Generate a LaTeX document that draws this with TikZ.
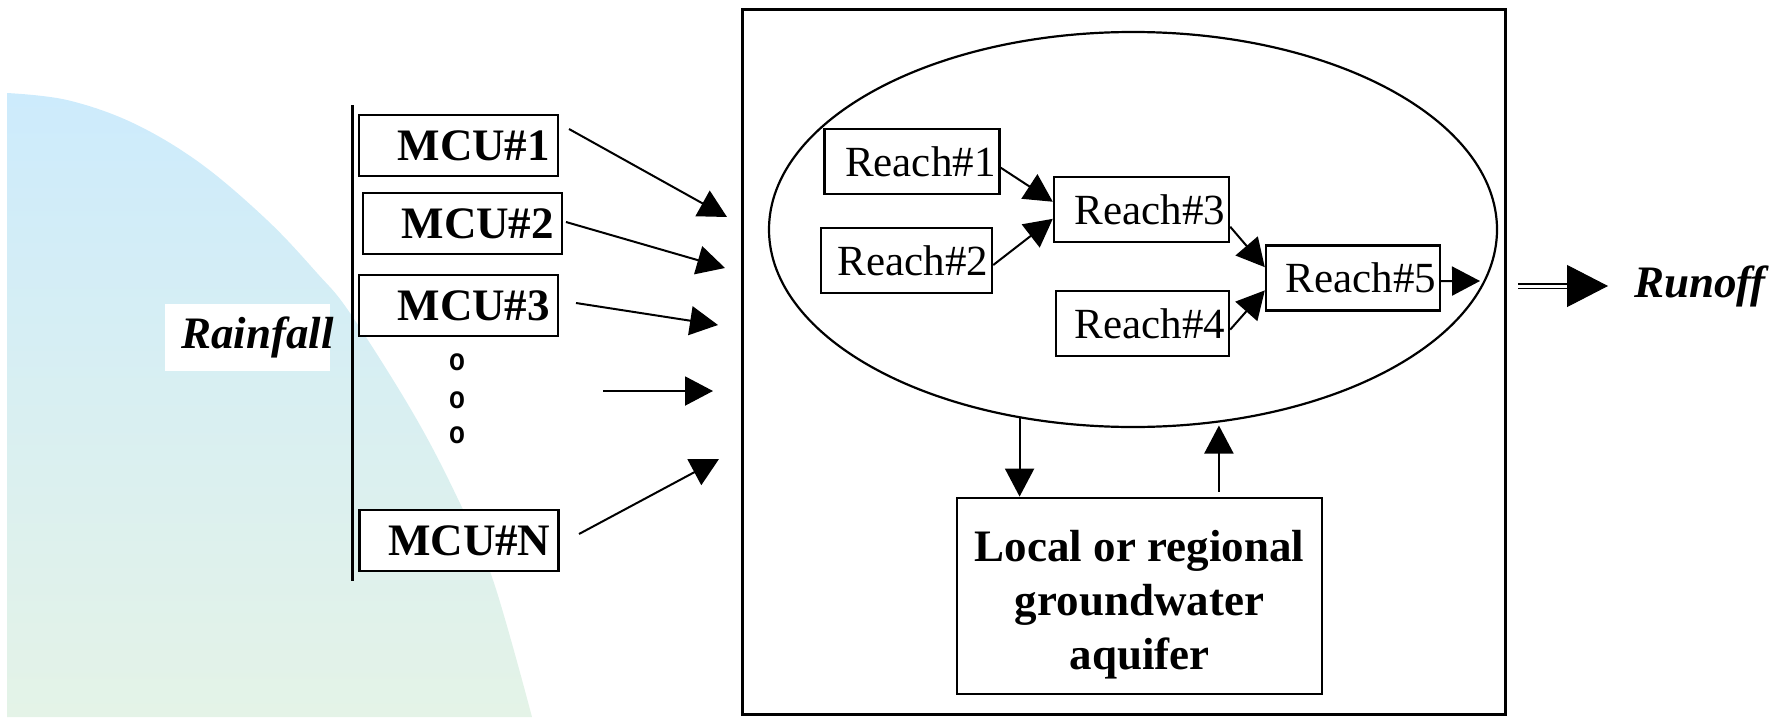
\documentclass[tikz,border=0pt]{standalone}
\usepackage{fontspec}
\setmainfont{Liberation Serif}
\newfontfamily\dotsfont{Liberation Sans}
\usetikzlibrary{arrows.meta,shapes.geometric}
\definecolor{rainTop}{RGB}{205,235,252}
\definecolor{rainMid}{RGB}{214,238,243}
\definecolor{rainBot}{RGB}{228,243,231}
\begin{document}
\begin{tikzpicture}[x=1pt,y=-1pt,
  tip/.style={-{Triangle[length=28pt,width=29pt]}, line width=2pt},
  mcubox/.style={draw, line width=2.8pt, fill=white, minimum height=61pt, text width=183pt,
    inner xsep=8pt, inner ysep=0pt, align=right, font=\fontsize{45}{50}\selectfont\bfseries},
  reachbox/.style={draw, line width=2.4pt, fill=white, minimum height=65pt, text width=167pt,
    inner xsep=4pt, inner ysep=0pt, align=right, font=\fontsize{43}{48}\selectfont},
  dotmark/.style={inner sep=0pt, yscale=1.2, font=\dotsfont\bfseries\fontsize{26}{26}\selectfont},
  bolditalic/.style={inner sep=0pt, font=\fontsize{45}{50}\selectfont\bfseries\itshape}
 ]
\useasboundingbox (0,0) rectangle (1787,717);
% rainfall background
\shade[top color=rainTop, middle color=rainMid, bottom color=rainBot]
  (7,717) -- plot[smooth, tension=0.6] coordinates {(7,93) (67,100) (133,123) (200,163) (267,220) (317,273) (350,313) (413,413) (457,497) (493,580) (532,717)} -- cycle;
\node[fill=white, minimum width=165pt, minimum height=67pt, inner sep=0pt] (rainbox) at (247.5,337.5) {};
\node[bolditalic, anchor=base east] (rain) at (334,348) {Rainfall};
% bracket line
\draw[line width=3pt] (352,105) -- (352,581);
% MCU boxes
\node[mcubox] (m1) at (458.5,145.5) {MCU\#1};
\node[mcubox] (m2) at (462.5,223.5) {MCU\#2};
\node[mcubox] (m3) at (458.5,305.5) {MCU\#3};
\node[mcubox] (mN) at (459,540.5) {MCU\#N};
\node[dotmark] (d1) at (457,362) {o};
\node[dotmark] (d2) at (457,400) {o};
\node[dotmark] (d3) at (457,435) {o};
% frame and basin
\node[draw, line width=3pt, minimum width=763pt, minimum height=704pt, inner sep=0pt] (frame) at (1123.5,362) {};
\node[draw, ellipse, line width=2.2pt, minimum width=728pt, minimum height=395pt, inner sep=0pt] (basin) at (1133,229.5) {};
% MCU arrows
\coordinate (a1s) at (569,129); \coordinate (a1e) at (727,217);
\coordinate (a2s) at (566,222); \coordinate (a2e) at (725,268);
\coordinate (a3s) at (576,303); \coordinate (a3e) at (718,325);
\coordinate (a4s) at (603,391); \coordinate (a4e) at (713,391);
\coordinate (a5s) at (579,534); \coordinate (a5e) at (719,459);
\draw[tip] (a1s) -- (a1e);
\draw[tip] (a2s) -- (a2e);
\draw[tip] (a3s) -- (a3e);
\draw[tip] (a4s) -- (a4e);
\draw[tip] (a5s) -- (a5e);
% reaches
\node[reachbox] (r1) at (912,161.5) {Reach\#1};
\node[reachbox, text width=163pt] (r2) at (906.5,260.5) {Reach\#2};
\node[reachbox] (r3) at (1141.5,209.5) {Reach\#3};
\node[reachbox, text width=165pt] (r4) at (1142.5,323.5) {Reach\#4};
\node[reachbox, text width=166pt] (r5) at (1353,278) {Reach\#5};
\draw[tip] (r1.-4) -- (r3.175);
\draw[tip] (r2.-3) -- (r3.186);
\draw[tip] (r3.-11) -- (r5.173);
\draw[tip] (r4.-4) -- (r5.188);
\coordinate (out) at (1480,281);
\draw[tip] (r5.-2) -- (out);
% groundwater
\node[draw, line width=2.8pt, minimum width=365pt, minimum height=196pt, inner sep=0pt] (gw) at (1139.5,596) {};
\node[inner sep=0pt, align=center, font=\fontsize{45}{54}\selectfont\bfseries] (gwtext) at (1139.5,605)
  {Local or regional\\groundwater\\aquifer};
\draw[tip] (basin.239) -- (basin.239 |- gw.north);
\draw[tip, shorten <=5pt, shorten >=3pt] (gw.north -| basin.294) -- (basin.294);
% runoff
\coordinate (ro1) at (1518,286); \coordinate (ro2) at (1567,286); \coordinate (ro3) at (1608,286);
\draw[double, double distance=3pt, line width=1.3pt] (ro1) -- (ro2);
\draw[-{Triangle[length=41pt,width=42pt]}, line width=1pt] (ro2) -- (ro3);
\node[bolditalic, anchor=base west] (runoff) at (1634,297) {Runoff};
\end{tikzpicture}
\end{document}
